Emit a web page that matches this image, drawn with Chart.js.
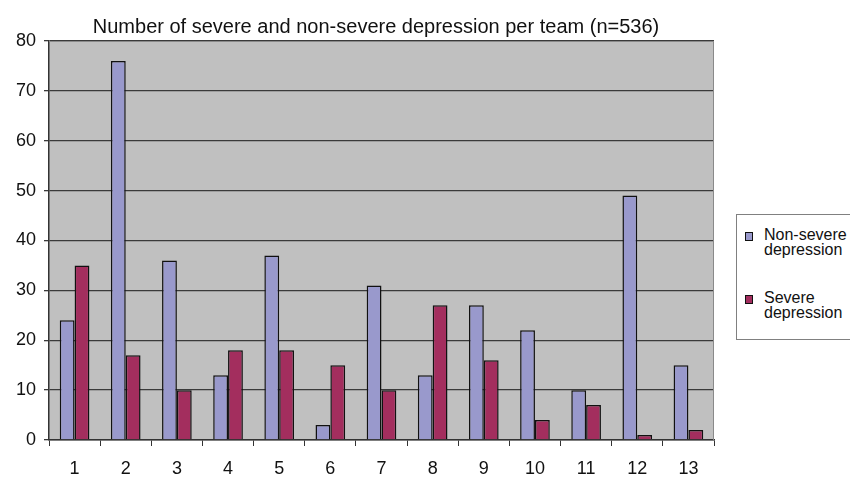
<!DOCTYPE html>
<html lang="en">
<head>
  <meta charset="UTF-8">
  <title>Depression per team</title>
  <script src="https://cdn.jsdelivr.net/npm/chart.js"></script>
  <style>
    html, body {
      margin: 0;
      padding: 0;
      background: #fff;
      overflow: hidden;
    }
    #wrap {
      position: relative;
      width: 850px;
      height: 478px;
    }
    #legend {
      position: absolute;
      left: 736px;
      top: 214px;
      width: 140px;
      height: 124px;
      border: 1px solid #808080;
      background: #fff;
      font-family: "Liberation Sans", Arial, sans-serif;
      font-size: 16px;
      line-height: 15px;
      color: #111;
    }
    .item {
      position: absolute;
      left: 8px;
    }
    .swatch {
      position: absolute;
      left: 0;
      top: 5px;
      width: 6px;
      height: 7px;
      border: 1px solid #111;
    }
    .txt {
      position: absolute;
      left: 19px;
      top: 0;
      white-space: nowrap;
    }
  </style>
</head>
<body>
<div id="wrap">
  <canvas id="chart" width="850" height="478"></canvas>
  <div id="legend"></div>
</div>

<script>
  const titleText = "Number of severe and non-severe depression per team (n=536)";
  const teams = ["1", "2", "3", "4", "5", "6", "7", "8", "9", "10", "11", "12", "13"];
  const seriesNames = [["Non-severe", "depression"], ["Severe", "depression"]];
  const nonSevere = [24, 76, 36, 13, 37, 3, 31, 13, 27, 22, 10, 49, 15];
  const severe = [35, 17, 10, 18, 18, 15, 10, 27, 16, 4, 7, 1, 2];
  const colors = ["#9999cc", "#a32e5e"];

  // grey plot area with a thin frame, like the old spreadsheet charts
  const plotBg = {
    id: "plotBg",
    afterLayout(chart) {
      // title sits a bit right of the canvas centre in the original
      if (chart.titleBlock) chart.titleBlock.left += 32;
    },
    beforeDraw(chart) {
      const { ctx, chartArea: a } = chart;
      ctx.save();
      ctx.fillStyle = "#c0c0c0";
      ctx.fillRect(a.left, a.top, a.right - a.left, a.bottom - a.top);
      ctx.restore();
    },
    afterDatasetsDraw(chart) {
      const { ctx, chartArea: a } = chart;
      ctx.save();
      ctx.strokeStyle = "#8a8a8a";
      ctx.lineWidth = 1;
      ctx.beginPath();
      ctx.moveTo(a.left, a.top + 0.5);
      ctx.lineTo(a.right - 0.5, a.top + 0.5);
      ctx.lineTo(a.right - 0.5, a.bottom);
      ctx.stroke();
      ctx.restore();
    }
  };

  const font = { family: "'Liberation Sans', Arial, sans-serif", size: 18 };

  new Chart(document.getElementById("chart"), {
    type: "bar",
    data: {
      labels: teams,
      datasets: [
        {
          label: seriesNames[0].join(" "),
          data: nonSevere,
          backgroundColor: colors[0],
          borderColor: "#111",
          borderWidth: 1.5
        },
        {
          label: seriesNames[1].join(" "),
          data: severe,
          backgroundColor: colors[1],
          borderColor: "#111",
          borderWidth: 1.5
        }
      ]
    },
    options: {
      responsive: false,
      animation: false,
      layout: { padding: { left: 6, right: 136, top: 15, bottom: 0 } },
      categoryPercentage: 0.58,
      barPercentage: 1.0,
      plugins: {
        legend: { display: false },
        tooltip: { enabled: false },
        title: {
          display: true,
          text: titleText,
          color: "#111",
          font: { family: font.family, size: 20, weight: "normal" },
          padding: { top: 0, bottom: 2 }
        }
      },
      scales: {
        x: {
          grid: {
            offset: true,
            drawOnChartArea: false,
            drawTicks: true,
            tickLength: 6,
            color: "#333"
          },
          border: { color: "#333", width: 1.5 },
          ticks: { color: "#111", font, padding: 12, maxRotation: 0 },
          afterFit(s) { s.height = 38; }
        },
        y: {
          min: 0,
          max: 80,
          ticks: { stepSize: 10, color: "#111", font, padding: 8 },
          grid: { color: "#3a3a3a", lineWidth: 1.3, tickLength: 5 },
          border: { color: "#333", width: 1.5 },
          afterFit(s) { s.width = 43; }
        }
      }
    },
    plugins: [plotBg]
  });

  // legend on the right, two-line labels
  const legend = document.getElementById("legend");
  const tops = [12, 75];
  seriesNames.forEach((lines, i) => {
    const item = document.createElement("div");
    item.className = "item";
    item.style.top = tops[i] + "px";
    item.innerHTML = '<span class="swatch" style="background:' + colors[i] + '"></span>' +
      '<span class="txt">' + lines.join("<br>") + "</span>";
    legend.appendChild(item);
  });
</script>
</body>
</html>
